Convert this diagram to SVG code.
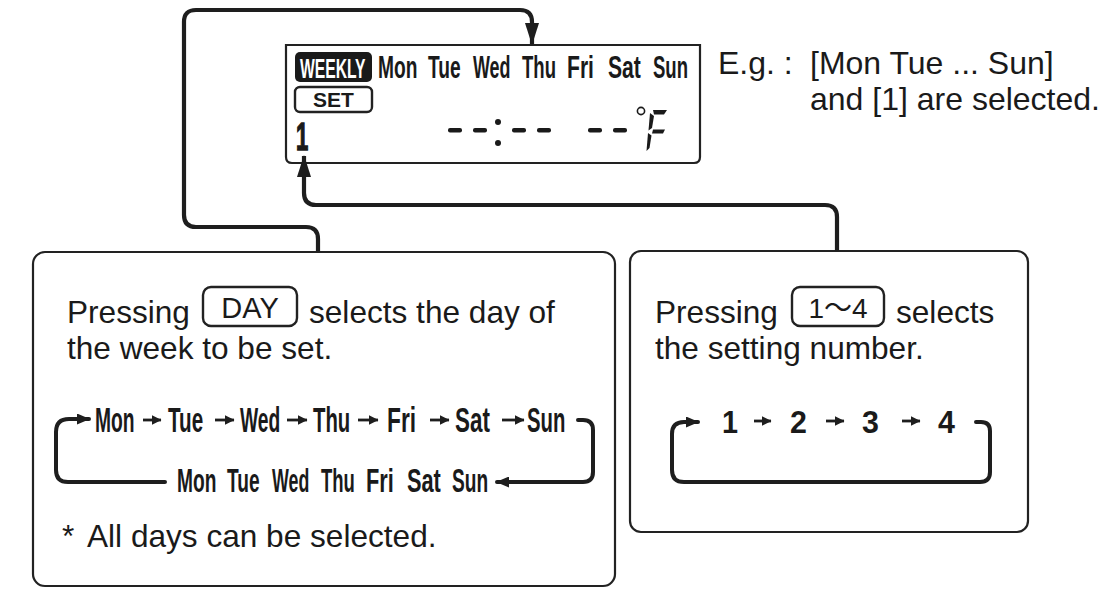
<svg xmlns="http://www.w3.org/2000/svg" width="1110" height="606" viewBox="0 0 1110 606">
<style>
.box{fill:#fff;stroke:#222;stroke-width:2.2}
.btn{fill:none;stroke:#222;stroke-width:2.4}
.conn{fill:none;stroke:#1e1e1e;stroke-width:4.2;stroke-linejoin:round}
.loop{fill:none;stroke:#1e1e1e;stroke-width:4;stroke-linecap:round}
.sm{fill:none;stroke:#1e1e1e;stroke-width:2.8}
.t{font-family:"Liberation Sans",Arial,sans-serif;font-size:31.6px;fill:#1a1a1a}
.c{font-family:"Liberation Sans",Arial,sans-serif;font-weight:bold;fill:#1a1a1a}
.seg{fill:#1a1a1a}
</style>
<defs>
<marker id="big" markerUnits="userSpaceOnUse" viewBox="0 0 22 14" markerWidth="22" markerHeight="14" refX="21" refY="7" orient="auto"><path d="M0,0 L22,7 L0,14 z" fill="#1e1e1e"/></marker>
<marker id="mid" markerUnits="userSpaceOnUse" viewBox="0 0 13 11" markerWidth="13" markerHeight="11" refX="12" refY="5.5" orient="auto"><path d="M0,0 L13,5.5 L0,11 z" fill="#1e1e1e"/></marker>
<marker id="small" markerUnits="userSpaceOnUse" viewBox="0 0 10 10" markerWidth="10" markerHeight="10" refX="9.5" refY="5" orient="auto"><path d="M0,0 L10,5 L0,10 z" fill="#1e1e1e"/></marker>
</defs>
<rect width="1110" height="606" fill="#fff"/>

<g id="lcd">
<path class="box" d="M286,45 H700 V157 Q700 163 694 163 H292 Q286 163 286 157 Z"/>
<rect x="295" y="52" width="77" height="30" rx="5" fill="#1a1a1a"/>
<text class="c" transform="translate(300,78) scale(0.58,1)" font-size="27" style="fill:#fff">WEEKLY</text>
<text class="c" transform="translate(378,78) scale(0.6,1)" font-size="32">Mon</text>
<text class="c" transform="translate(428,78) scale(0.6,1)" font-size="32">Tue</text>
<text class="c" transform="translate(473,78) scale(0.56,1)" font-size="32">Wed</text>
<text class="c" transform="translate(522,78) scale(0.58,1)" font-size="32">Thu</text>
<text class="c" transform="translate(567,78) scale(0.66,1)" font-size="32">Fri</text>
<text class="c" transform="translate(608,78) scale(0.66,1)" font-size="32">Sat</text>
<text class="c" transform="translate(653,78) scale(0.58,1)" font-size="32">Sun</text>
<rect class="btn" x="295" y="87" width="77" height="25" rx="5"/>
<text class="c" x="333.5" y="107" font-size="21" text-anchor="middle">SET</text>
<text class="c" transform="translate(296,150) scale(0.58,1)" font-size="38" stroke="#1a1a1a" stroke-width="1.4">1</text>
<rect class="seg" x="448" y="128" width="14" height="4.5" rx="2"/>
<rect class="seg" x="473" y="128" width="14" height="4.5" rx="2"/>
<circle class="seg" cx="498" cy="122" r="3"/>
<circle class="seg" cx="498" cy="143" r="3"/>
<rect class="seg" x="512" y="128" width="14" height="4.5" rx="2"/>
<rect class="seg" x="537" y="128" width="14" height="4.5" rx="2"/>
<rect class="seg" x="588" y="128" width="14" height="4.5" rx="2"/>
<rect class="seg" x="613" y="128" width="14" height="4.5" rx="2"/>
<circle cx="641" cy="111" r="3.6" fill="none" stroke="#1a1a1a" stroke-width="1.6"/>
<polygon class="seg" points="653,110 667,110 664,114.5 654,114.5"/>
<polygon class="seg" points="650,113 654,116 652,128 648.5,130.5"/>
<polygon class="seg" points="653,129.5 665,129.5 663,133.5 652,133.5"/>
<polygon class="seg" points="648,133 651.5,135.5 649.5,148 646.5,151"/>
</g>

<g id="example">
<text class="t" x="718" y="74" style="font-size:32px">E.g. :</text>
<text class="t" x="810" y="74" style="font-size:32px">[Mon Tue ... Sun]</text>
<text class="t" x="810" y="110" style="font-size:32px">and [1] are selected.</text>
</g>

<g id="day-box">
<rect class="box" x="33" y="252" width="582" height="334" rx="12"/>
<text class="t" x="67" y="323">Pressing</text>
<rect class="btn" x="203" y="287" width="94" height="39" rx="8"/>
<text class="t" x="250" y="318" text-anchor="middle" style="font-size:29px">DAY</text>
<text class="t" x="309" y="323">selects the day of</text>
<text class="t" x="67" y="359">the week to be set.</text>
<text class="c" transform="translate(95,432) scale(0.55,1)" font-size="35">Mon</text>
<text class="c" transform="translate(168,432) scale(0.59,1)" font-size="35">Tue</text>
<text class="c" transform="translate(240,432) scale(0.55,1)" font-size="35">Wed</text>
<text class="c" transform="translate(313,432) scale(0.58,1)" font-size="35">Thu</text>
<text class="c" transform="translate(387,432) scale(0.65,1)" font-size="35">Fri</text>
<text class="c" transform="translate(455,432) scale(0.64,1)" font-size="35">Sat</text>
<text class="c" transform="translate(527,432) scale(0.58,1)" font-size="35">Sun</text>
<text class="c" transform="translate(177,492) scale(0.58,1)" font-size="33">Mon</text>
<text class="c" transform="translate(227,492) scale(0.58,1)" font-size="33">Tue</text>
<text class="c" transform="translate(272,492) scale(0.54,1)" font-size="33">Wed</text>
<text class="c" transform="translate(321,492) scale(0.56,1)" font-size="33">Thu</text>
<text class="c" transform="translate(366,492) scale(0.66,1)" font-size="33">Fri</text>
<text class="c" transform="translate(407,492) scale(0.66,1)" font-size="33">Sat</text>
<text class="c" transform="translate(452,492) scale(0.58,1)" font-size="33">Sun</text>
<text class="t" x="62" y="547">*</text>
<text class="t" x="87" y="547">All days can be selected.</text>
</g>

<g id="number-box">
<rect class="box" x="630" y="251" width="398" height="281" rx="11"/>
<text class="t" x="655" y="323">Pressing</text>
<rect class="btn" x="792" y="287" width="92" height="39" rx="8"/>
<text class="t" x="838" y="318" text-anchor="middle" style="font-size:28px;font-family:'Liberation Sans','Noto Sans CJK JP',sans-serif">1～4</text>
<text class="t" x="896" y="323">selects</text>
<text class="t" x="655" y="359">the setting number.</text>
<text class="c" transform="translate(722,433) scale(0.9,1)" font-size="32">1</text>
<text class="c" transform="translate(790,433) scale(0.95,1)" font-size="32">2</text>
<text class="c" transform="translate(862,433) scale(0.95,1)" font-size="32">3</text>
<text class="c" transform="translate(938,433) scale(0.95,1)" font-size="32">4</text>
</g>

<g id="connectors">
<path class="conn" marker-end="url(#big)" d="M318,251 V239 Q318,227 306,227 H196 Q184,227 184,215 V22 Q184,10 196,10 H520 Q532,10 532,22 V44"/>
<path class="conn" marker-end="url(#big)" d="M837,251 V217 Q837,205 825,205 H316 Q304,205 304,193 V156"/>
<path class="loop" marker-end="url(#mid)" d="M165,482 H68 Q56,482 56,470 V432 Q56,419 69,419 H89"/>
<path class="loop" marker-end="url(#mid)" d="M578,420 H583 Q593,420 593,430 V472 Q593,482 583,482 H497"/>
<path class="loop" marker-end="url(#mid)" d="M976,422 H981 Q990,422 990,431 V472 Q990,482 980,482 H684 Q672,482 672,470 V434 Q672,422 684,422 H698"/>
<path class="sm" marker-end="url(#small)" d="M143,420 H161"/>
<path class="sm" marker-end="url(#small)" d="M215,420 H234"/>
<path class="sm" marker-end="url(#small)" d="M287,420 H307"/>
<path class="sm" marker-end="url(#small)" d="M358,420 H378"/>
<path class="sm" marker-end="url(#small)" d="M430,420 H449"/>
<path class="sm" marker-end="url(#small)" d="M502,420 H524"/>
<path class="sm" marker-end="url(#small)" d="M754,421 H771"/>
<path class="sm" marker-end="url(#small)" d="M826,421 H844"/>
<path class="sm" marker-end="url(#small)" d="M902,421 H920"/>
</g>
</svg>
